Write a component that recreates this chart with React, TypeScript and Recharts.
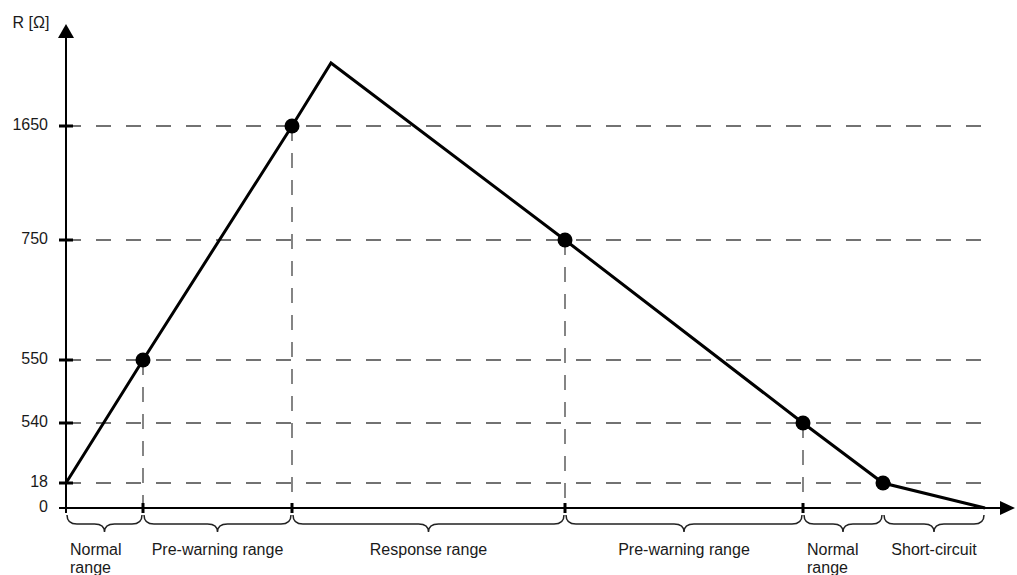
import { LineChart, Line, XAxis, YAxis, ReferenceLine, ReferenceArea } from 'recharts';

// resistance along the sweep (Ω); the peak is not labelled in the diagram
const sweepPos = [0, 77, 226, 265, 499, 737, 817, 919];
const resistance = [18, 550, 1650, 2000, 750, 540, 18, 0];
const marked = [false, true, true, false, true, true, true, false];
const dropLine = [false, true, true, false, true, true, false, false];

// schematic (non-linear) R axis: value levels and their height on the axis
const levelR = [0, 18, 540, 550, 750, 1650, 2000, 2300];
const levelH = [0, 25, 85, 148, 268, 382, 445, 484];

const yTickR = [0, 18, 540, 550, 750, 1650];
const yTickLabels = ['0', '18', '540', '550', '750', '1650'];

const rangeEdges = [0, 77, 226, 499, 737, 817, 919];
const rangeLabels = [
  ['Normal', 'range'],
  ['Pre-warning range'],
  ['Response range'],
  ['Pre-warning range'],
  ['Normal', 'range'],
  ['Short-circuit'],
];

const X_MAX = 949;
const Y_MAX = levelH[levelH.length - 1];
const FONT = 16;
const TXT = '#1a1a1a';

const toAxis = (r: number) => {
  for (let i = 1; i < levelR.length; i++) {
    if (r <= levelR[i]) {
      const t = (r - levelR[i - 1]) / (levelR[i] - levelR[i - 1]);
      return levelH[i - 1] + t * (levelH[i] - levelH[i - 1]);
    }
  }
  return Y_MAX;
};

const data = sweepPos.map((x, i) => ({ x, y: toAxis(resistance[i]), r: resistance[i], marked: marked[i] }));
const yTicks = yTickR.map(toAxis);

const YArrow = (p: any) => (
  <g>
    <line x1={p.x1} y1={p.y1} x2={p.x2} y2={p.y2 + 12} stroke="#000" strokeWidth={2} />
    <polygon points={`${p.x2},${p.y2} ${p.x2 - 8},${p.y2 + 14} ${p.x2 + 8},${p.y2 + 14}`} fill="#000" />
  </g>
);

const XArrow = (p: any) => (
  <g>
    <line x1={p.x1} y1={p.y1} x2={p.x2 - 12} y2={p.y2} stroke="#000" strokeWidth={2} />
    <polygon points={`${p.x2},${p.y2} ${p.x2 - 15},${p.y2 - 7} ${p.x2 - 15},${p.y2 + 7}`} fill="#000" />
  </g>
);

const Brace = ({ x, y, width, height, idx }: any) => {
  const xa = x + 1, xb = x + width - 1, xm = x + width / 2;
  const top = y, mid = y + height, tip = mid + 8;
  const r = Math.min(10, width / 6);
  const d = `M${xa},${top} Q${xa},${mid} ${xa + r},${mid} L${xm - r},${mid} Q${xm},${mid} ${xm},${tip} ` +
    `Q${xm},${mid} ${xm + r},${mid} L${xb - r},${mid} Q${xb},${mid} ${xb},${top}`;
  const lines = rangeLabels[idx];
  const wrap = lines.length > 1;
  return (
    <g>
      <path d={d} fill="none" stroke="#222" strokeWidth={1.5} />
      {lines.map((s, k) => (
        <text key={k} x={wrap ? x + 4 : xm} y={mid + 31 + k * 18} textAnchor={wrap ? 'start' : 'middle'}
          fontSize={FONT} fill={TXT}>{s}</text>
      ))}
    </g>
  );
};

export default function App() {
  return (
    <div style={{ position: 'absolute', left: 0, top: 0, width: 1017, height: 575, background: '#fff',
      fontFamily: '"Liberation Sans", Arial, sans-serif' }}>
      <LineChart width={1017} height={575} data={data} margin={{ top: 24, right: 2, bottom: 67, left: 0 }}>
        <XAxis type="number" dataKey="x" domain={[0, X_MAX]} hide />
        <YAxis type="number" domain={[0, Y_MAX]} ticks={yTicks} width={66} axisLine={false} tickLine={false}
          tickSize={6} tickMargin={12} interval={0}
          tickFormatter={(v: number) => yTickLabels[yTicks.indexOf(v)] ?? ''}
          tick={{ fontSize: FONT, fill: TXT, dy: -2 }}
          label={{ value: 'R [Ω]', position: 'top', offset: -4, dx: -2, fontSize: FONT, fill: TXT }} />

        {yTicks.slice(1).map((h, i) => (
          <ReferenceLine key={'g' + i} segment={[{ x: 0, y: h }, { x: 924, y: h }]} ifOverflow="visible"
            stroke="#444" strokeWidth={1.3} strokeDasharray="15 15" />
        ))}
        {data.map((d, i) => dropLine[i] ? (
          <ReferenceLine key={'v' + i} segment={[{ x: d.x, y: d.y }, { x: d.x, y: 0 }]} ifOverflow="visible"
            stroke="#444" strokeWidth={1.3} strokeDasharray="15 12" />
        ) : null)}

        <ReferenceLine segment={[{ x: 0, y: -5 }, { x: 0, y: Y_MAX }]} ifOverflow="visible" shape={YArrow} />
        <ReferenceLine segment={[{ x: -7, y: 0 }, { x: X_MAX, y: 0 }]} ifOverflow="visible" shape={XArrow} />

        {yTicks.slice(1).map((h, i) => (
          <ReferenceLine key={'yt' + i} segment={[{ x: -7, y: h }, { x: 7, y: h }]} ifOverflow="visible"
            stroke="#000" strokeWidth={3} />
        ))}
        {data.map((d, i) => dropLine[i] ? (
          <ReferenceLine key={'xt' + i} segment={[{ x: d.x, y: -5 }, { x: d.x, y: 5 }]} ifOverflow="visible"
            stroke="#000" strokeWidth={3} />
        ) : null)}

        {rangeLabels.map((_, i) => (
          <ReferenceArea key={'b' + i} x1={rangeEdges[i]} x2={rangeEdges[i + 1]} y1={-7} y2={-16}
            ifOverflow="visible" shape={(p: any) => <Brace {...p} idx={i} />} />
        ))}

        <Line type="linear" dataKey="y" stroke="#000" strokeWidth={3} strokeLinejoin="miter"
          isAnimationActive={false}
          dot={(p: any) => p.payload.marked
            ? <circle key={p.index} cx={p.cx} cy={p.cy} r={7.5} fill="#000" />
            : <g key={p.index} />}
          activeDot={false} />
      </LineChart>
    </div>
  );
}
